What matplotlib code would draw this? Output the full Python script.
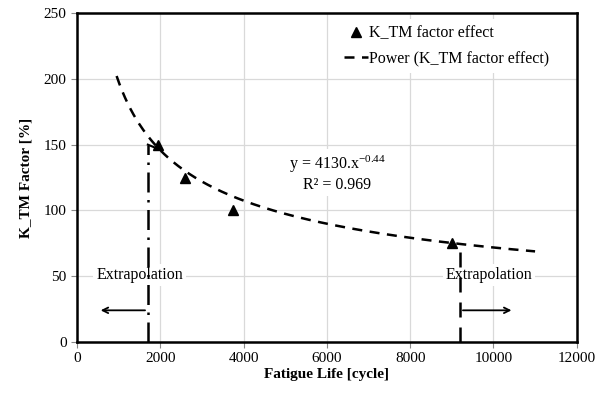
import numpy as np
import matplotlib
matplotlib.use("Agg")
import matplotlib.pyplot as plt

plt.rcParams['font.family'] = ['Liberation Serif', 'DejaVu Serif']
plt.rcParams['mathtext.fontset'] = 'custom'
plt.rcParams['mathtext.rm'] = 'Liberation Serif'
plt.rcParams['mathtext.it'] = 'Liberation Serif:italic'

life = [1950, 2600, 3750, 9000]
ktm = [150, 125, 100, 75]
fit_a, fit_b = 4130, -0.44
fit_range = [950, 11000]
extrap_left_x, extrap_right_x = 1700, 9200

fig = plt.figure(figsize=(6.02, 3.98), dpi=100)
ax = fig.add_axes([0.128, 0.141, 0.83, 0.826])

xf = np.linspace(fit_range[0], fit_range[1], 300)
yf = fit_a * xf ** fit_b
ax.plot(life, ktm, linestyle='none', marker='^', color='black', markersize=7,
        label='K_TM factor effect', zorder=4)
ax.plot(xf, yf, linestyle=(0, (4, 3)), color='black', lw=1.8,
        label='Power (K_TM factor effect)', zorder=3)

ax.plot([extrap_left_x, extrap_left_x], [0, 150], color='black', lw=1.8,
        linestyle=(0, (8, 3, 1, 3)), zorder=3)
ax.plot([extrap_left_x, extrap_left_x + 150], [150, 148], color='black', lw=1.5, zorder=3)
ax.plot([extrap_right_x, extrap_right_x], [0, 74], color='black', lw=1.8,
        linestyle=(0, (6, 4)), zorder=3)
ax.annotate('', xy=(500, 24), xytext=(extrap_left_x, 24),
            arrowprops=dict(arrowstyle='->', color='black', lw=1.3))
ax.annotate('', xy=(10500, 24), xytext=(extrap_right_x, 24),
            arrowprops=dict(arrowstyle='->', color='black', lw=1.3))

ax.text(1500, 51, 'Extrapolation', ha='center', va='center', fontsize=11.5,
        bbox=dict(facecolor='white', edgecolor='none', pad=2), zorder=2)
ax.text(9900, 51, 'Extrapolation', ha='center', va='center', fontsize=11.5,
        bbox=dict(facecolor='white', edgecolor='none', pad=2), zorder=2)
ax.text(6250, 128, 'y = 4130.x$^{\\mathrm{-0.44}}$\nR² = 0.969', ha='center', va='center',
        fontsize=11.5, linespacing=1.2,
        bbox=dict(facecolor='white', edgecolor='none', pad=2), zorder=2)

ax.set_xlim(0, 12000)
ax.set_ylim(0, 250)
ax.set_xticks(np.arange(0, 12001, 2000))
ax.set_yticks(np.arange(0, 251, 50))
ax.grid(True, color='#d9d9d9', lw=0.9)
ax.set_axisbelow(True)
for s in ax.spines.values():
    s.set_linewidth(1.8)
ax.tick_params(labelsize=11, length=4, width=0.8, direction='out', color='#888888')
ax.set_xlabel('Fatigue Life [cycle]', fontsize=11, fontweight='bold', labelpad=2)
ax.set_ylabel('K_TM Factor [%]', fontsize=11, fontweight='bold', labelpad=8)

leg = ax.legend(loc='upper right', bbox_to_anchor=(0.958, 0.982), fontsize=11.5,
                frameon=True, fancybox=False, edgecolor='none', framealpha=1,
                handlelength=1.5, handletextpad=0.1, labelspacing=0.6,
                borderaxespad=0.0, borderpad=0.4)

fig.savefig('out.png', dpi=100)
